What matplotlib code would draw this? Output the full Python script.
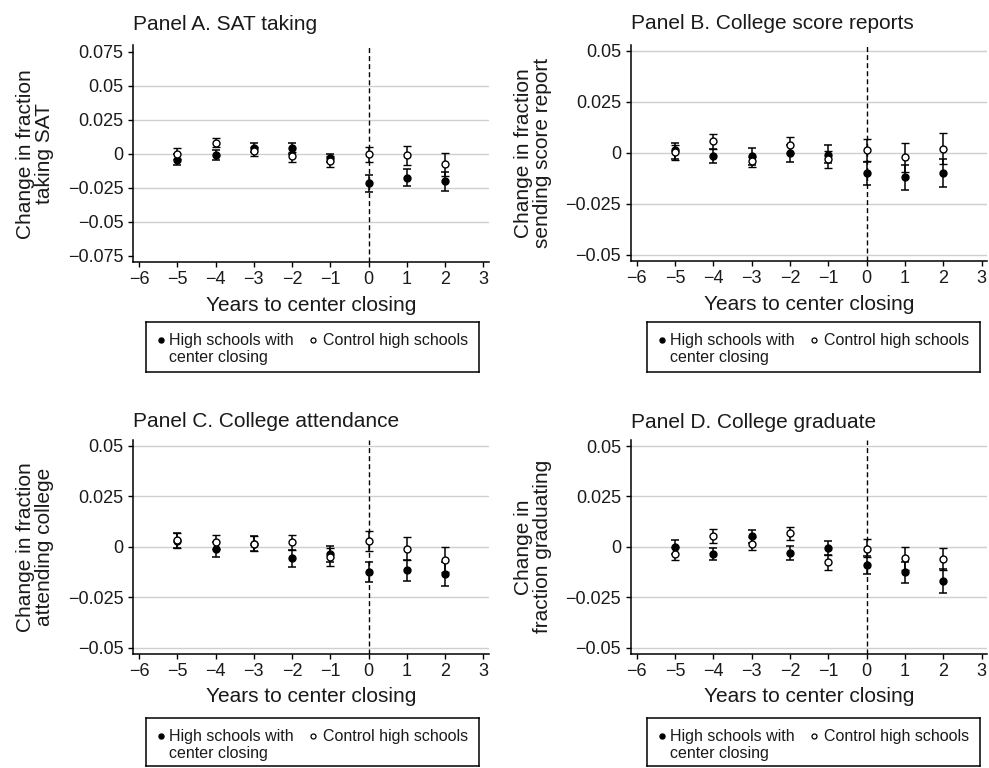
import numpy as np
import matplotlib
matplotlib.use("Agg")
import matplotlib.pyplot as plt

plt.rcParams['font.family'] = ['Liberation Sans', 'DejaVu Sans']

years = [-5, -4, -3, -2, -1, 0, 1, 2]
xticks = [-6, -5, -4, -3, -2, -1, 0, 1, 2, 3]

# Panel A. SAT taking
a_treat = [-0.0046, -0.0010, 0.0044, 0.0040, -0.0030, -0.0215, -0.0176, -0.0202]
a_treat_lo = [-0.0085, -0.0050, 0.0010, 0.0000, -0.0060, -0.0280, -0.0240, -0.0273]
a_treat_hi = [-0.0005, 0.0025, 0.0075, 0.0080, 0.0000, -0.0154, -0.0110, -0.0134]
a_ctrl = [0.0000, 0.0080, 0.0020, -0.0020, -0.0054, -0.0005, -0.0010, -0.0078]
a_ctrl_lo = [-0.0040, 0.0050, -0.0020, -0.0060, -0.0098, -0.0063, -0.0085, -0.0163]
a_ctrl_hi = [0.0040, 0.0115, 0.0050, 0.0010, -0.0020, 0.0050, 0.0056, 0.0005]

# Panel B. College score reports
b_treat = [0.0013, -0.0016, -0.0016, 0.0000, -0.0010, -0.0101, -0.0117, -0.0101]
b_treat_lo = [-0.0030, -0.0052, -0.0060, -0.0047, -0.0050, -0.0160, -0.0183, -0.0170]
b_treat_hi = [0.0050, 0.0020, 0.0023, 0.0037, 0.0036, -0.0044, -0.0060, -0.0030]
b_ctrl = [0.0003, 0.0057, -0.0040, 0.0040, -0.0030, 0.0013, -0.0021, 0.0016]
b_ctrl_lo = [-0.0035, 0.0020, -0.0070, 0.0000, -0.0073, -0.0040, -0.0095, -0.0057]
b_ctrl_hi = [0.0040, 0.0090, -0.0020, 0.0078, 0.0010, 0.0069, 0.0049, 0.0095]

# Panel C. College attendance
c_treat = [0.0030, -0.0011, 0.0016, -0.0057, -0.0036, -0.0124, -0.0117, -0.0134]
c_treat_lo = [-0.0005, -0.0049, -0.0020, -0.0098, -0.0073, -0.0173, -0.0171, -0.0193]
c_treat_hi = [0.0069, 0.0024, 0.0052, -0.0016, 0.0003, -0.0073, -0.0065, -0.0073]
c_ctrl = [0.0033, 0.0024, 0.0016, 0.0023, -0.0049, 0.0028, -0.0010, -0.0065]
c_ctrl_lo = [-0.0005, -0.0013, -0.0020, -0.0016, -0.0095, -0.0021, -0.0067, -0.0127]
c_ctrl_hi = [0.0069, 0.0060, 0.0052, 0.0060, -0.0008, 0.0080, 0.0049, 0.0000]

# Panel D. College graduate
d_treat = [0.0000, -0.0036, 0.0052, -0.0030, -0.0008, -0.0090, -0.0126, -0.0167]
d_treat_lo = [-0.0034, -0.0067, 0.0020, -0.0064, -0.0042, -0.0136, -0.0178, -0.0227]
d_treat_hi = [0.0036, -0.0005, 0.0085, 0.0005, 0.0028, -0.0047, -0.0075, -0.0110]
d_ctrl = [-0.0034, 0.0054, 0.0016, 0.0067, -0.0077, -0.0010, -0.0057, -0.0060]
d_ctrl_lo = [-0.0064, 0.0021, -0.0015, 0.0034, -0.0113, -0.0050, -0.0113, -0.0113]
d_ctrl_hi = [-0.0002, 0.0087, 0.0047, 0.0100, -0.0042, 0.0039, -0.0002, -0.0007]

yticks_a = [-0.075, -0.05, -0.025, 0, 0.025, 0.05, 0.075]
yticklabels_a = ["\u22120.075", "\u22120.05", "\u22120.025", "0", "0.025", "0.05", "0.075"]
yticks_b = [-0.05, -0.025, 0, 0.025, 0.05]
yticklabels_b = ["\u22120.05", "\u22120.025", "0", "0.025", "0.05"]
xticklabels = ["\u22126", "\u22125", "\u22124", "\u22123", "\u22122", "\u22121", "0", "1", "2", "3"]

titles = ["Panel A. SAT taking", "Panel B. College score reports",
          "Panel C. College attendance", "Panel D. College graduate"]
ylabels = ["Change in fraction\ntaking SAT",
           "Change in fraction\nsending score report",
           "Change in fraction\nattending college",
           "Change in\nfraction graduating"]
legend_labels = ["High schools with", "center closing", "Control high schools"]

panels = [
    (a_treat, a_treat_lo, a_treat_hi, a_ctrl, a_ctrl_lo, a_ctrl_hi),
    (b_treat, b_treat_lo, b_treat_hi, b_ctrl, b_ctrl_lo, b_ctrl_hi),
    (c_treat, c_treat_lo, c_treat_hi, c_ctrl, c_ctrl_lo, c_ctrl_hi),
    (d_treat, d_treat_lo, d_treat_hi, d_ctrl, d_ctrl_lo, d_ctrl_hi),
]

W, H = 989, 768
fig = plt.figure(figsize=(W / 100, H / 100), dpi=100)

# axes boxes in pixels: left, top, right, bottom
boxes = [(133.3, 45, 489, 262.3), (631, 44.5, 987.3, 261),
         (133.3, 439.5, 489, 654), (631, 440, 987.3, 653.7)]
legend_boxes = [(145.7, 322.3, 479, 372), (646.7, 322.3, 980, 372),
                (145.7, 718.3, 479, 766), (646.7, 718.3, 980, 766)]
title_pads = [11, 11, 9, 9]
txt = '#1a1a1a'

for i, (box, data) in enumerate(zip(boxes, panels)):
    l, t, r, b = box
    ax = fig.add_axes([l / W, 1 - b / H, (r - l) / W, (b - t) / H])
    treat, tlo, thi, ctrl, clo, chi = [np.array(v) for v in data]

    if i == 0:
        ax.set_ylim(-0.08, 0.08)
        ax.set_yticks(yticks_a)
        ax.set_yticklabels(yticklabels_a)
        grid_vals = yticks_a[1:-1]
    else:
        ax.set_ylim(-0.053, 0.053)
        ax.set_yticks(yticks_b)
        ax.set_yticklabels(yticklabels_b)
        grid_vals = yticks_b
    for g in grid_vals:
        ax.axhline(g, color='#cfcfcf', lw=1.0, zorder=0)

    ax.axvline(0, color='black', lw=1.0, linestyle=(0, (3.6, 2.2)), zorder=1)

    ax.errorbar(years, treat, yerr=[treat - tlo, thi - treat], fmt='o',
                color='black', ms=5, mfc='black', mec='black',
                elinewidth=1.1, capsize=2.6, capthick=1.1, zorder=3)
    ax.errorbar(years, ctrl, yerr=[ctrl - clo, chi - ctrl], fmt='o',
                color='black', ms=5, mfc='white', mec='black', mew=1.0,
                elinewidth=1.1, capsize=2.6, capthick=1.1, zorder=4)

    ax.set_xlim(-6.15, 3.15)
    ax.set_xticks(xticks)
    ax.set_xticklabels(xticklabels)

    for s in ['top', 'right']:
        ax.spines[s].set_visible(False)
    for s in ['left', 'bottom']:
        ax.spines[s].set_linewidth(1.1)
    ax.tick_params(direction='out', length=3.6, width=1.0, labelsize=13,
                   labelcolor=txt)
    ax.tick_params(axis='y', pad=3.5)
    ax.tick_params(axis='x', pad=3.0)

    ax.set_title(titles[i], loc='left', fontsize=15, color=txt, pad=title_pads[i])
    ax.set_xlabel("Years to center closing", fontsize=15, color=txt)
    ax.xaxis.set_label_coords(0.5, -0.155)
    ax.set_ylabel(ylabels[i], fontsize=15, color=txt, linespacing=1.0)
    ax.yaxis.set_label_coords(-0.222, 0.5)

    # legend box
    ll, lt, lr, lb = legend_boxes[i]
    lax = fig.add_axes([ll / W, 1 - lb / H, (lr - ll) / W, (lb - lt) / H])
    lax.set_xlim(0, lr - ll)
    lax.set_ylim(lb - lt, 0)
    lax.set_xticks([])
    lax.set_yticks([])
    for s in lax.spines.values():
        s.set_linewidth(1.1)
    lax.plot([15], [18], 'o', ms=3.6, color='black')
    lax.text(23.5, 18, legend_labels[0], fontsize=11.5, va='center', color=txt)
    lax.text(23.5, 35, legend_labels[1], fontsize=11.5, va='center', color=txt)
    lax.plot([167.5], [18], 'o', ms=3.6, mfc='white', mec='black', mew=0.9)
    lax.text(177, 18, legend_labels[2], fontsize=11.5, va='center', color=txt)

fig.savefig("out.png", dpi=100)
